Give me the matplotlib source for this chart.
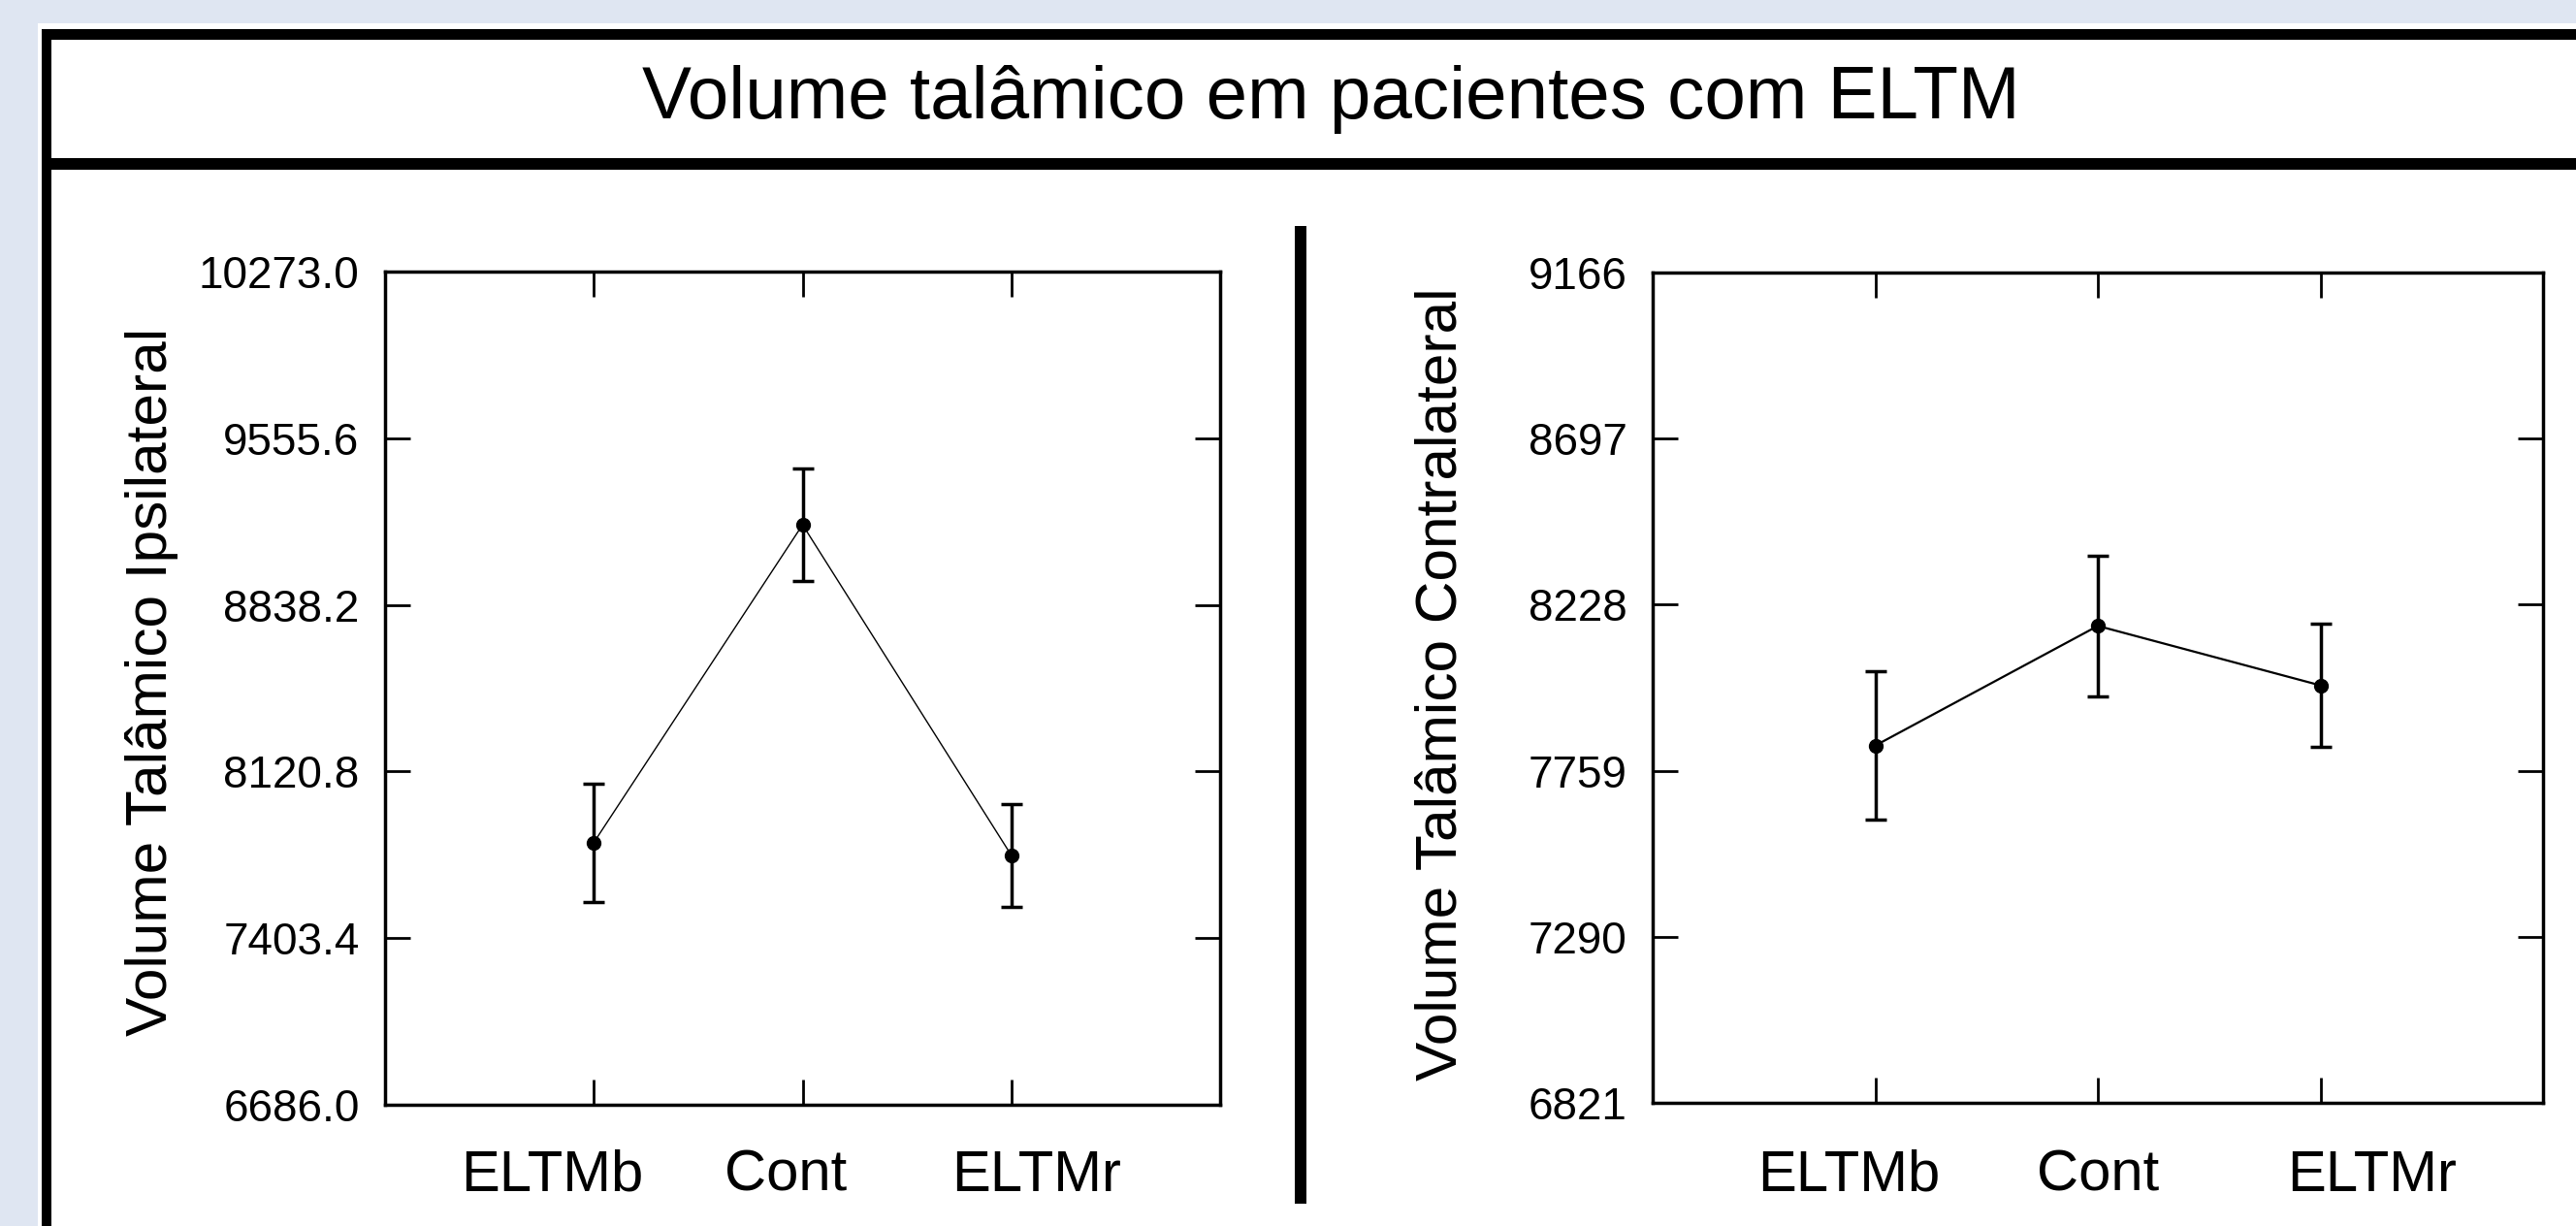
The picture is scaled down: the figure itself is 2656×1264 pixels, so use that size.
import numpy as np
import matplotlib
matplotlib.use('Agg')
import matplotlib.pyplot as plt
from matplotlib.patches import Rectangle
from matplotlib.transforms import blended_transform_factory

plt.rcParams.update({
    'font.family': ['Liberation Sans', 'DejaVu Sans'],
    'axes.linewidth': 2.5,
})

# ---- data ----
GROUPS = ['ELTMb', 'Cont', 'ELTMr']
X_POS = [1, 2, 3]

IPSI_MEAN = [7815, 9183, 7760]
IPSI_ERR = [255, 243, 222]
IPSI_TICKS = [6686.0, 7403.4, 8120.8, 8838.2, 9555.6, 10273.0]

CONTRA_MEAN = [7830, 8168, 8000]
CONTRA_ERR = [210, 199, 173]
CONTRA_TICKS = [6821, 7290, 7759, 8228, 8697, 9166]

TITLE = 'Volume talâmico em pacientes com ELTM'
YLABEL_IPSI = 'Volume Talâmico Ipsilateral'
YLABEL_CONTRA = 'Volume Talâmico Contralateral'

W, H = 2656, 1264
fig = plt.figure(figsize=(W / 100, H / 100), dpi=100, facecolor='white')


def px_rect(x0, y0, x1, y1, color):
    # rectangle given in pixel coords (origin top-left)
    fig.add_artist(Rectangle((x0 / W, 1 - y1 / H), (x1 - x0) / W, (y1 - y0) / H,
                             transform=fig.transFigure, facecolor=color,
                             edgecolor='none', zorder=0))


# slide background + frame
px_rect(0, 0, W, 24, '#dfe6f2')
px_rect(0, 0, 39, H, '#dfe6f2')
px_rect(43, 30, W, 41, 'black')
px_rect(43, 163, W, 175, 'black')
px_rect(43, 30, 53, H, 'black')
px_rect(1335, 233, 1347, 1241, 'black')

fig.text(1372 / W, 1 - 102 / H, TITLE, ha='center', va='center', fontsize=55)


def panel(rect, mean, err, ticks, fmt, line_lw, label_x, label_y):
    ax = fig.add_axes(rect)
    ax.errorbar(X_POS, mean, yerr=err, color='black', marker='o', markersize=10,
                lw=line_lw, elinewidth=2.5, capsize=8, capthick=2.5, zorder=3)
    ax.set_xlim(0, 4)
    ax.set_ylim(ticks[0], ticks[-1])
    ax.set_yticks(ticks)
    ax.set_yticklabels([fmt.format(t) for t in ticks])
    ax.set_xticks(X_POS)
    ax.set_xticklabels([])
    ax.tick_params(axis='both', direction='in', length=19, width=2,
                   top=True, right=True, labelsize=33, pad=19)
    tr = blended_transform_factory(ax.transData, ax.transAxes)
    for x, g in zip(label_x, GROUPS):
        ax.text(x, label_y, g, transform=tr, ha='center', va='center', fontsize=43)
    return ax


panel([397 / W, 1 - 1139 / H, 861 / W, 859 / H], IPSI_MEAN, IPSI_ERR,
      IPSI_TICKS, '{:.1f}', 1.0, [0.8, 1.92, 3.12], -0.085)
panel([1704 / W, 1 - 1137 / H, 918 / W, 856 / H], CONTRA_MEAN, CONTRA_ERR,
      CONTRA_TICKS, '{:.0f}', 1.6, [0.88, 2.0, 3.23], -0.088)

fig.text(157 / W, 1 - 703 / H, YLABEL_IPSI, rotation=90, ha='center', va='center',
         fontsize=43.5)
fig.text(1486 / W, 1 - 705 / H, YLABEL_CONTRA, rotation=90, ha='center', va='center',
         fontsize=43.5)

fig.savefig('out.png', dpi=100, facecolor='white')
